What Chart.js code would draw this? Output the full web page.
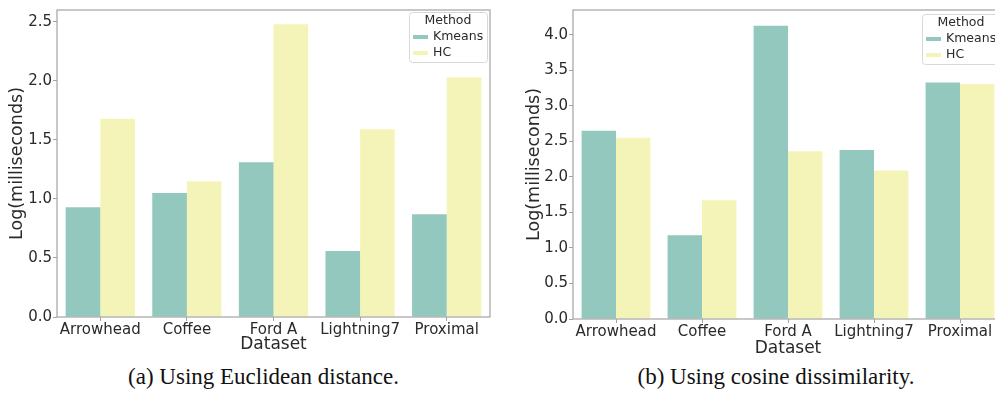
<!DOCTYPE html>
<html>
<head>
<meta charset="utf-8">
<script src="https://cdn.jsdelivr.net/npm/chart.js@4.4.0/dist/chart.umd.min.js"></script>
<style>
  html, body { margin: 0; padding: 0; background: #fff; width: 995px; height: 394px; overflow: hidden; }
  .plot { position: absolute; top: 0; }
  .caption { position: absolute; top: 364px; font-family: 'Liberation Serif', serif; font-size: 23px; line-height: 26px; color: #111; text-align: center; }
</style>
</head>
<body>
<canvas id="euclidChart" class="plot" width="497" height="360" style="left:0"></canvas>
<canvas id="cosineChart" class="plot" width="510" height="360" style="left:500px"></canvas>
<div class="caption" style="left:15px;width:497px">(a) Using Euclidean distance.</div>
<div class="caption" style="left:528px;width:496px">(b) Using cosine dissimilarity.</div>
<script>
const datasetNames = ['Arrowhead', 'Coffee', 'Ford A', 'Lightning7', 'Proximal'];
const methods = ['Kmeans', 'HC'];
const euclidKmeans = [0.93, 1.05, 1.31, 0.56, 0.87];
const euclidHC = [1.68, 1.15, 2.48, 1.59, 2.03];
const cosineKmeans = [2.65, 1.18, 4.13, 2.38, 3.33];
const cosineHC = [2.55, 1.67, 2.36, 2.09, 3.31];

Chart.defaults.font.family = '"DejaVu Sans", sans-serif';
Chart.defaults.color = '#2a2a2a';

// box round the plot area, like matplotlib spines
const frame = {
  id: 'frame',
  afterDraw(chart) {
    const {ctx, chartArea: a} = chart;
    ctx.save();
    ctx.strokeStyle = '#a3a3a3';
    ctx.lineWidth = 1.2;
    ctx.strokeRect(a.left, a.top, a.right - a.left, a.bottom - a.top);
    ctx.restore();
  }
};

// legend drawn inside the top right corner
const methodLegend = {
  id: 'methodLegend',
  afterDraw(chart, args, opts) {
    const {ctx, chartArea: a} = chart;
    const w = 78, h = 50;
    const x = a.right - opts.right - w;
    const y = a.top + opts.top;
    ctx.save();
    ctx.fillStyle = 'rgba(255,255,255,0.85)';
    ctx.strokeStyle = '#d8d8d8';
    ctx.lineWidth = 1;
    ctx.beginPath();
    ctx.roundRect(x + 0.5, y + 0.5, w, h, 3);
    ctx.fill();
    ctx.stroke();
    ctx.font = '12.5px "DejaVu Sans"';
    ctx.textBaseline = 'middle';
    ctx.textAlign = 'center';
    ctx.fillStyle = '#2a2a2a';
    ctx.fillText(opts.title, x + w / 2, y + 9);
    ctx.textAlign = 'left';
    chart.data.datasets.forEach((ds, i) => {
      const ry = y + 25 + i * 16;
      ctx.fillStyle = ds.backgroundColor;
      ctx.fillRect(x + 4, ry - 2, 15, 4);
      ctx.fillStyle = '#2a2a2a';
      ctx.fillText(ds.label, x + 24, ry);
    });
    ctx.restore();
  }
};

function makeChart(id, kmeans, hc, s) {
  const ctx = document.getElementById(id).getContext('2d');
  return new Chart(ctx, {
    type: 'bar',
    data: {
      labels: datasetNames,
      datasets: [
        { label: methods[0], data: kmeans, backgroundColor: '#93c8bf' },
        { label: methods[1], data: hc, backgroundColor: '#f5f4b8' }
      ]
    },
    options: {
      responsive: false,
      animation: false,
      layout: { padding: { top: s.top, right: 7, left: 0, bottom: 0 } },
      datasets: { bar: { categoryPercentage: 0.8, barPercentage: 1.0 } },
      plugins: {
        legend: { display: false },
        tooltip: { enabled: false },
        methodLegend: { title: 'Method', right: 3, top: s.legendTop }
      },
      scales: {
        x: {
          grid: { display: true, drawOnChartArea: false, drawTicks: true, tickLength: 4, offset: false, color: '#a3a3a3' },
          border: { display: false },
          ticks: { font: { size: 15 }, padding: 0, maxRotation: 0, autoSkip: false },
          title: { display: true, text: 'Dataset', font: { size: 17 }, padding: { top: 0, bottom: s.xTitlePad } },
          afterFit: sc => { sc.height = s.xHeight; }
        },
        y: {
          min: 0,
          max: s.max,
          grid: { display: true, drawOnChartArea: false, drawTicks: true, tickLength: 4, color: '#a3a3a3' },
          border: { display: false },
          ticks: { stepSize: 0.5, includeBounds: false, font: { size: 15 }, padding: 1, callback: v => v.toFixed(1) },
          title: { display: true, text: 'Log(milliseconds)', font: { size: 17.5 }, padding: { top: s.yTitlePad, bottom: 0 } },
          afterFit: sc => { sc.width = s.yWidth; }
        }
      }
    },
    plugins: [frame, methodLegend]
  });
}

makeChart('euclidChart', euclidKmeans, euclidHC,
  { top: 5, max: 2.6, xHeight: 43, xTitlePad: 5, yWidth: 57, yTitlePad: 7, legendTop: 2 });
makeChart('cosineChart', cosineKmeans, cosineHC,
  { top: 7, max: 4.35, xHeight: 41, xTitlePad: 1, yWidth: 73, yTitlePad: 24, legendTop: 4 });
</script>
</body>
</html>
